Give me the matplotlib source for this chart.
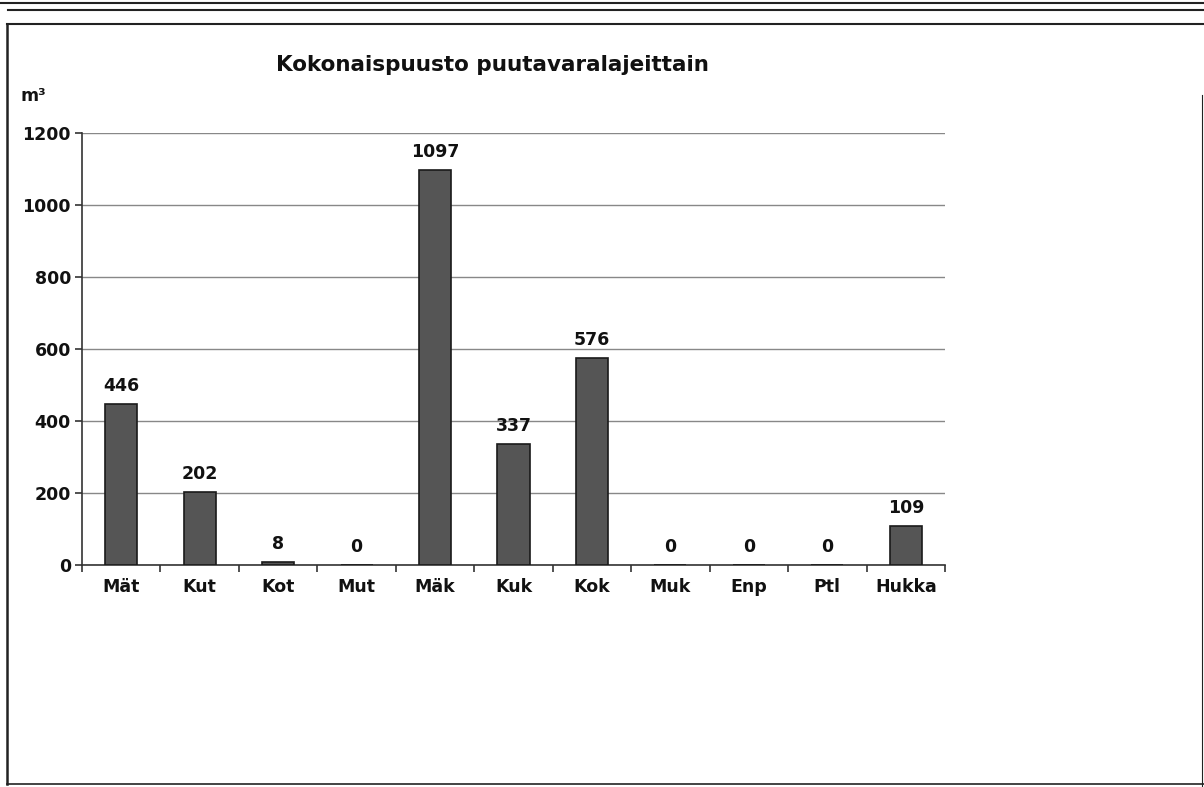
import matplotlib.pyplot as plt
import numpy as np
from matplotlib.lines import Line2D

categories = ['Mät', 'Kut', 'Kot', 'Mut', 'Mäk', 'Kuk', 'Kok', 'Muk', 'Enp', 'Ptl', 'Hukka']
values = [446, 202, 8, 0, 1097, 337, 576, 0, 0, 0, 109]
yticks = [0, 200, 400, 600, 800, 1000, 1200]

plt.rcParams['font.family'] = ['DejaVu Sans']
plt.rcParams['font.weight'] = 'bold'

fig = plt.figure(figsize=(12.04, 7.87), dpi=100)
ax = fig.add_axes([82 / 1204, 1 - 565 / 787, (945 - 82) / 1204, (565 - 133) / 787])

x = np.arange(len(categories))
ax.bar(x, values, width=0.41, color='#555555', edgecolor='#1a1a1a', linewidth=1.2, zorder=3)

for xi, v in zip(x, values):
    ax.text(xi, v + 25, str(v), ha='center', va='bottom', fontsize=12.5, fontweight='bold', color='#111111')

ax.set_xlim(-0.5, len(categories) - 0.5)
ax.set_ylim(0, 1200)
ax.set_yticks(yticks)
ax.set_yticklabels([str(t) for t in yticks], fontsize=12.5, fontweight='bold', color='#111111')
ax.set_xticks(x)
ax.set_xticklabels(categories, fontsize=12.5, fontweight='bold', color='#111111')
ax.tick_params(axis='x', length=0, pad=9)
ax.tick_params(axis='y', length=5, width=1.2, color='#333333', pad=3)
ax.set_xticks(np.arange(-0.5, len(categories), 1), minor=True)
ax.tick_params(axis='x', which='minor', length=5, width=1.2, color='#333333', direction='out')

ax.grid(axis='y', color='#888888', linewidth=1.0, zorder=0)
for side in ['top', 'right']:
    ax.spines[side].set_visible(False)
ax.spines['left'].set_color('#333333')
ax.spines['bottom'].set_color('#333333')
ax.spines['left'].set_linewidth(1.2)
ax.spines['bottom'].set_linewidth(1.2)

fig.text(492 / 1204, 1 - 65 / 787, 'Kokonaispuusto puutavaralajeittain', ha='center', va='center',
         fontsize=15.5, fontweight='bold', color='#111111')
fig.text(20 / 1204, 1 - 96 / 787, 'm³', ha='left', va='center', fontsize=12.5, fontweight='bold',
         color='#111111')

# page frame lines from the scan
W, H = 1204, 787
def hline(y, x0, x1, lw):
    fig.add_artist(Line2D([x0 / W, x1 / W], [1 - y / H, 1 - y / H], color='#222222', linewidth=lw))

def vline(xp, y0, y1, lw):
    fig.add_artist(Line2D([xp / W, xp / W], [1 - y0 / H, 1 - y1 / H], color='#222222', linewidth=lw))

hline(3, 0, W, 1.5)
hline(10, 8, W, 1.5)
hline(24, 7, W, 1.5)
vline(7, 24, 784, 1.8)
hline(784, 7, W, 1.2)
vline(1202, 95, 787, 0.8)

fig.savefig('out.png', dpi=100)
